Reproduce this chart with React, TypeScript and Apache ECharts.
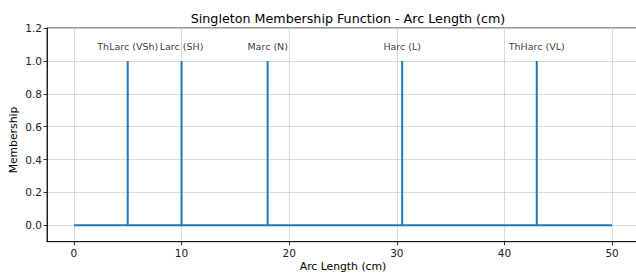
import React, { useEffect, useRef } from "react";
import * as echarts from "echarts";

const singletonNames = ["ThLarc (VSh)", "Larc (SH)", "Marc (N)", "Harc (L)", "ThHarc (VL)"];
const singletonPositions = [5, 10, 18, 30.5, 43];
const singletonMembership = [1, 1, 1, 1, 1];
const domainStart = 0;
const domainEnd = 50;
const xTicks = [0, 10, 20, 30, 40, 50];
const yTicks = [0, 0.2, 0.4, 0.6, 0.8, 1.0, 1.2];
const labelHeight = 1.05;

const FONT = "DejaVu Sans";

export default function App() {
  const ref = useRef<HTMLDivElement>(null);
  useEffect(() => {
    if (!ref.current) return;
    const chart = echarts.init(ref.current, null, { renderer: "svg" });

    const lineData: number[][] = [[domainStart, 0]];
    singletonPositions.forEach((p, i) => {
      lineData.push([p, 0], [p, singletonMembership[i]], [p, 0]);
    });
    lineData.push([domainEnd, 0]);

    const labelData = singletonPositions.map((p, i) => ({
      value: [p, labelHeight],
      name: singletonNames[i],
    }));

    chart.setOption({
      animation: false,
      title: {
        text: "Singleton Membership Function - Arc Length (cm)",
        left: 343,
        textAlign: "center",
        top: 7,
        textStyle: { fontFamily: FONT, fontSize: 12.7, fontWeight: "normal", color: "#000" },
      },
      graphic: [
        {
          type: "text",
          x: 13,
          y: 140,
          rotation: Math.PI / 2,
          style: {
            text: "Membership",
            fontFamily: FONT,
            fontSize: 10.8,
            fill: "#000",
            align: "center",
            verticalAlign: "middle",
          },
        },
        {
          type: "text",
          x: 343,
          y: 266,
          style: {
            text: "Arc Length (cm)",
            fontFamily: FONT,
            fontSize: 10.8,
            fill: "#000",
            align: "center",
            verticalAlign: "middle",
          },
        },
      ],
      grid: {
        left: 47,
        top: 28,
        right: -3,
        bottom: 31.3,
        outerBoundsMode: "none",
        containLabel: false,
        show: true,
        borderColor: "#000",
        borderWidth: 0.8,
        backgroundColor: "transparent",
      },
      xAxis: {
        type: "value",
        min: -2.5,
        max: 52.5,
        axisLine: { show: true, onZero: false, lineStyle: { color: "#000", width: 0.8 } },
        axisTick: { show: true, length: 3.5, customValues: xTicks, lineStyle: { color: "#000", width: 0.8 } },
        axisLabel: {
          customValues: xTicks,
          margin: 6,
          fontFamily: FONT,
          fontSize: 10.5,
          color: "#222",
          formatter: (v: number) => String(v),
        },
        splitLine: { show: true, customValues: xTicks, lineStyle: { color: "#d0d0d0", width: 0.8 } },
      },
      yAxis: {
        type: "value",
        min: -0.1,
        max: 1.2,
        axisLine: { show: true, onZero: false, lineStyle: { color: "#000", width: 0.8 } },
        axisTick: { show: true, length: 3.5, customValues: yTicks, lineStyle: { color: "#000", width: 0.8 } },
        axisLabel: {
          customValues: yTicks,
          margin: 5,
          fontFamily: FONT,
          fontSize: 10.5,
          color: "#222",
          formatter: (v: number) => v.toFixed(1),
        },
        splitLine: { show: true, customValues: yTicks, lineStyle: { color: "#d0d0d0", width: 0.8 } },
      },
      series: [
        {
          type: "line",
          data: lineData,
          symbol: "none",
          lineStyle: { color: "#1f77b4", width: 2 },
          z: 3,
        },
        {
          type: "scatter",
          data: labelData,
          symbolSize: 0,
          label: {
            show: true,
            position: "top",
            distance: 1,
            formatter: (p: any) => p.name,
            fontFamily: FONT,
            fontSize: 9.5,
            color: "#000",
          },
          z: 4,
        },
      ],
    });
    return () => chart.dispose();
  }, []);
  return (
    <div
      ref={ref}
      style={{ position: "fixed", left: 0, top: 0, width: 636, height: 273, background: "#fff" }}
    />
  );
}
